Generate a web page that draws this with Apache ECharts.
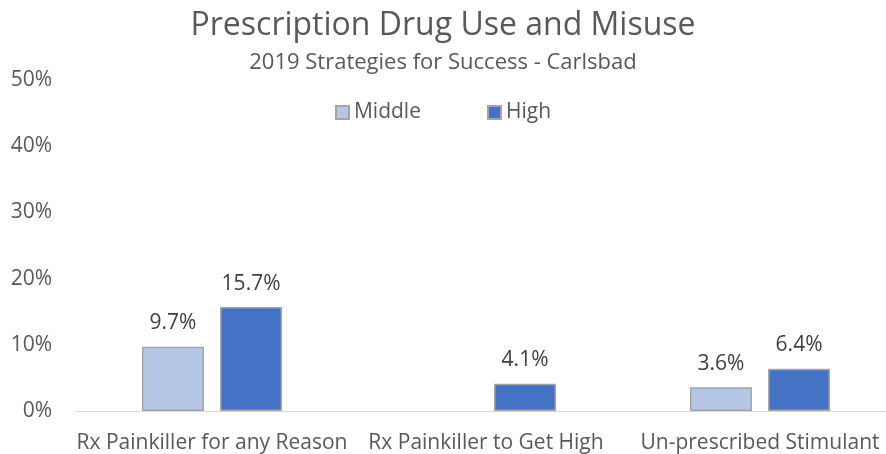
<!DOCTYPE html>
<html>
<head>
<meta charset="utf-8">
<script src="https://cdn.jsdelivr.net/npm/echarts@6/dist/echarts.min.js"></script>
<style>
  html, body { margin: 0; padding: 0; background: #fff; }
  #chart { width: 886px; height: 454px; }
</style>
</head>
<body>
<div id="chart"></div>
<script>
// Survey categories and percentages by school level
const categories = ['Rx Painkiller for any Reason', 'Rx Painkiller to Get High', 'Un-prescribed Stimulant'];
const middleValues = [9.7, null, 3.6];
const highValues = [15.7, 4.1, 6.4];
const yTicks = [0, 10, 20, 30, 40, 50];

const FONT = '"Open Sans", "Noto Sans", sans-serif';

const chart = echarts.init(document.getElementById('chart'));

const labelStyle = {
  show: true,
  position: 'top',
  distance: 13,
  color: '#404040',
  fontSize: 21,
  fontFamily: FONT,
  formatter: p => p.value == null ? '' : p.value.toFixed(1) + '%'
};

chart.setOption({
  animation: false,
  title: [
    {
      text: 'Prescription Drug Use and Misuse',
      left: 'center',
      top: 5,
      textStyle: { color: '#595959', fontSize: 32, fontWeight: 'normal', fontFamily: FONT }
    },
    {
      text: '2019 Strategies for Success - Carlsbad',
      left: 'center',
      top: 47,
      textStyle: { color: '#595959', fontSize: 22, fontWeight: 'normal', fontFamily: FONT }
    }
  ],
  legend: {
    top: 97,
    left: 'center',
    itemWidth: 13,
    itemHeight: 13,
    itemGap: 66,
    icon: 'rect',
    textStyle: { color: '#595959', fontSize: 21, fontFamily: FONT },
    data: ['Middle', 'High']
  },
  grid: {
    left: 75, width: 822, top: 80, bottom: 43,
    containLabel: false,
    outerBoundsMode: 'none'
  },
  xAxis: {
    type: 'category',
    data: categories,
    axisLine: { lineStyle: { color: '#D9D9D9', width: 1 } },
    axisTick: { show: false },
    axisLabel: { color: '#595959', fontSize: 21, fontFamily: FONT, margin: 22, interval: 0, hideOverlap: false }
  },
  yAxis: {
    type: 'value',
    min: yTicks[0],
    max: yTicks[yTicks.length - 1],
    interval: 10,
    splitLine: { show: false },
    axisLine: { show: false },
    axisTick: { show: false },
    axisLabel: {
      color: '#595959', fontSize: 21, fontFamily: FONT, margin: 23,
      formatter: v => v + '%'
    }
  },
  series: [
    {
      name: 'Middle',
      type: 'bar',
      data: middleValues,
      barWidth: 62,
      barGap: '26%',
      itemStyle: { color: '#B4C7E7', borderColor: '#A5A5A5', borderWidth: 1.5 },
      label: labelStyle
    },
    {
      name: 'High',
      type: 'bar',
      data: highValues,
      barWidth: 62,
      barGap: '26%',
      itemStyle: { color: '#4472C4', borderColor: '#A5A5A5', borderWidth: 1.5 },
      label: labelStyle
    }
  ]
});
</script>
</body>
</html>
